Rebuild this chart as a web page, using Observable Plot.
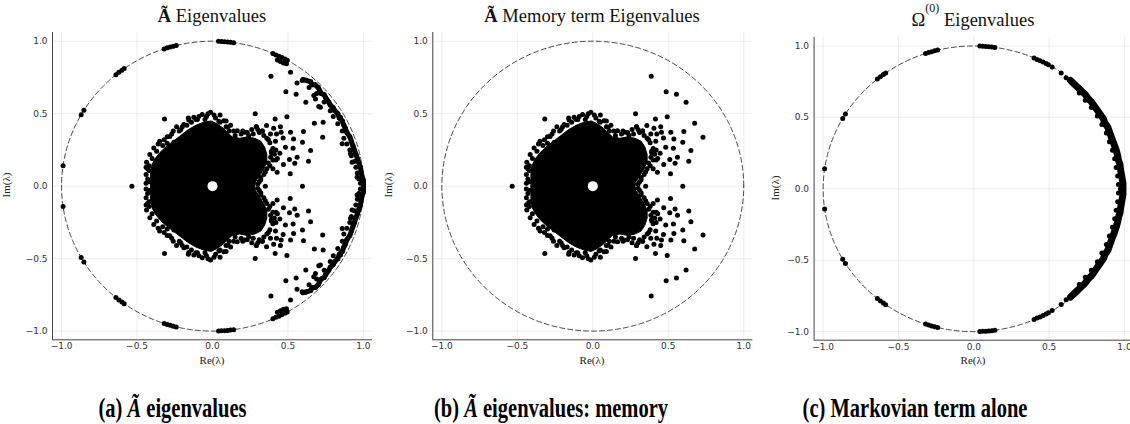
<!DOCTYPE html>
<html>
<head>
<meta charset="utf-8">
<script src="https://cdn.jsdelivr.net/npm/d3@7"></script>
<script src="https://cdn.jsdelivr.net/npm/@observablehq/plot@0.6"></script>
<style>
  body { margin: 0; background: #fff; }
  #fig { position: relative; width: 1130px; height: 424px; overflow: hidden; background: #fff; }
  .panel { position: absolute; top: 0; }
  #labels { position: absolute; left: 0; top: 0; pointer-events: none; }
</style>
</head>
<body>
<div id="fig"></div>
<script>
// Eigenvalues are stored as [re, im] with im >= 0; each complex value is drawn
// together with its conjugate (the matrices are real).

// Outline of the dense core of eigenvalues (upper half-plane).
const coreOutline = [
  [-0.41, 0], [-0.41, 0.10], [-0.40, 0.15], [-0.38, 0.19], [-0.35, 0.23], [-0.31, 0.27],
  [-0.26, 0.31], [-0.21, 0.35], [-0.16, 0.39], [-0.11, 0.42], [-0.06, 0.44], [-0.01, 0.45],
  [0.03, 0.43], [0.07, 0.40], [0.10, 0.37], [0.13, 0.34], [0.18, 0.33], [0.23, 0.34],
  [0.28, 0.33], [0.32, 0.31], [0.345, 0.27], [0.36, 0.22], [0.36, 0.17], [0.34, 0.12],
  [0.31, 0.07], [0.285, 0.03], [0.28, 0]
];

// Eigenvalues on the ragged rim of the dense core.
const coreEdge = [
  [-0.44, 0.02], [-0.43, 0.05], [-0.44, 0.08], [-0.42, 0.108], [-0.437, 0.165], [-0.415, 0.218],
  [-0.389, 0.264], [-0.36, 0.29], [-0.30, 0.296], [-0.283, 0.342], [-0.256, 0.303], [-0.238, 0.41],
  [-0.21, 0.39], [-0.19, 0.425], [-0.157, 0.457], [-0.124, 0.475], [-0.10, 0.46], [-0.068, 0.494],
  [-0.04, 0.48], [-0.013, 0.51], [0.02, 0.47], [0.042, 0.448], [0.075, 0.452], [0.101, 0.406],
  [0.12, 0.42], [0.14, 0.38], [0.164, 0.383], [0.19, 0.36], [0.212, 0.372], [0.24, 0.35],
  [0.26, 0.39], [0.29, 0.41], [0.31, 0.37], [0.33, 0.38], [0.36, 0.33], [0.38, 0.30],
  [0.40, 0.26], [0.41, 0.22], [0.40, 0.18], [0.38, 0.14], [0.35, 0.10], [0.32, 0.06], [0.31, 0.03],
  [-0.42, 0.14], [-0.40, 0.19], [-0.37, 0.24], [-0.33, 0.28], [-0.32, 0.32], [-0.27, 0.36],
  [-0.22, 0.38], [-0.17, 0.42], [-0.14, 0.44], [-0.09, 0.48], [-0.05, 0.46], [0.01, 0.49],
  [0.05, 0.44], [0.09, 0.41], [0.11, 0.38], [0.15, 0.35], [0.20, 0.38], [0.23, 0.37],
  [0.27, 0.36], [0.30, 0.39], [0.34, 0.35], [0.37, 0.32], [0.39, 0.24], [0.385, 0.20],
  [0.37, 0.16], [0.36, 0.12], [0.34, 0.08], [0.32, 0.045], [0.30, 0.015], [0.43, 0.19],
  [0.42, 0.25], [-0.43, 0.12], [-0.42, 0.03], [-0.44, 0.13], [-0.35, 0.31], [-0.30, 0.34],
  [-0.26, 0.38], [-0.20, 0.41], [-0.16, 0.47], [-0.11, 0.46], [-0.03, 0.50], [0.05, 0.49],
  [0.09, 0.45]
];

// The gap in the spectrum around the origin.
const originGap = [[0, 0]];

// Scattered memory-term eigenvalues outside the core.
const memoryScatter = [
  [-0.534, 0], [-0.318, 0.464], [0.35, 0], [0.283, 0.499], [0.387, 0.758], [0.486, 0.652],
  [0.554, 0.634], [0.618, 0.579], [0.493, 0.478], [0.415, 0.464], [0.675, 0.434], [0.73, 0.337],
  [0.603, 0.377], [0.537, 0.326], [0.65, 0.246], [0.596, 0.303], [0.636, 0.172], [0.515, 0.085],
  [0.596, 0], [0.358, 0.418], [0.45, 0.41], [0.33, 0.38], [0.384, 0.36], [0.424, 0.36],
  [0.517, 0.372], [0.468, 0.333], [0.417, 0.31], [0.483, 0.268], [0.534, 0.261], [0.446, 0.227],
  [0.561, 0.2], [0.51, 0.183], [0.545, 0.158], [0.47, 0.149], [0.428, 0.096], [0.29, 0.41],
  [0.405, 0.40], [0.455, 0.372], [0.39, 0.23], [0.42, 0.18], [0.40, 0.12]
];

// Markovian eigenvalues sitting in clusters on the unit circle.
const circleClusters = [
  [0.04, 0.999], [0.06, 0.998], [0.08, 0.997], [0.10, 0.995], [0.12, 0.993], [0.14, 0.99],
  [-0.32, 0.947], [-0.30, 0.954], [-0.28, 0.96], [-0.26, 0.966], [-0.24, 0.971],
  [-0.64, 0.768], [-0.62, 0.785], [-0.60, 0.80], [-0.585, 0.811],
  [-0.87, 0.493], [-0.852, 0.523], [-0.99, 0.141],
  [0.40, 0.915], [0.42, 0.905], [0.44, 0.897], [0.46, 0.887], [0.48, 0.877], [0.495, 0.868]
];

// Full operator: band of eigenvalues just inside the circle near Re = 1 (ordered along the arc).
const fullBand = [
  [0.60, 0.735], [0.62, 0.73], [0.65, 0.72], [0.66, 0.70], [0.68, 0.70], [0.70, 0.68],
  [0.71, 0.66], [0.72, 0.64], [0.74, 0.63], [0.75, 0.61], [0.77, 0.58], [0.78, 0.56],
  [0.80, 0.54], [0.81, 0.52], [0.83, 0.50], [0.84, 0.47], [0.86, 0.45], [0.87, 0.42],
  [0.88, 0.40], [0.89, 0.37], [0.91, 0.34], [0.92, 0.31], [0.93, 0.28], [0.94, 0.25],
  [0.95, 0.22], [0.96, 0.19], [0.97, 0.16], [0.98, 0.13], [0.985, 0.10], [0.99, 0.07],
  [1.0, 0.04], [1.0, 0.01]
];

// Full operator: eigenvalues scattered on the inner side of that band.
const fullBandInner = [
  [0.43, 0.87], [0.45, 0.86], [0.47, 0.85], [0.49, 0.845],
  [0.517, 0.786], [0.56, 0.712], [0.594, 0.728], [0.704, 0.549], [0.733, 0.44],
  [0.682, 0.602], [0.671, 0.625], [0.715, 0.544], [0.848, 0.475], [0.859, 0.292],
  [0.914, 0.223], [0.925, 0.165], [0.958, 0.061],
  [0.64, 0.68], [0.69, 0.64], [0.74, 0.58], [0.78, 0.52], [0.80, 0.48], [0.83, 0.43],
  [0.86, 0.38], [0.87, 0.33], [0.89, 0.29], [0.91, 0.25], [0.92, 0.21], [0.94, 0.17],
  [0.95, 0.13], [0.96, 0.09], [0.97, 0.05], [0.98, 0.02]
];

// Markovian term alone: dense band hugging the circle near Re = 1 (ordered along the arc).
const markovBand = [
  [0.642, 0.758], [0.66, 0.74], [0.68, 0.72], [0.70, 0.70], [0.72, 0.68], [0.74, 0.66],
  [0.76, 0.63], [0.78, 0.61], [0.80, 0.58], [0.82, 0.55], [0.84, 0.52], [0.86, 0.49],
  [0.87, 0.46], [0.89, 0.43], [0.90, 0.40], [0.91, 0.37], [0.92, 0.34], [0.935, 0.30],
  [0.945, 0.27], [0.955, 0.23], [0.96, 0.20], [0.97, 0.17], [0.975, 0.13], [0.98, 0.10],
  [0.985, 0.07], [0.99, 0.04], [0.99, 0.01]
];

// Markovian term alone: the inner row of the band and the sparse eigenvalues above it.
const markovBandInner = [
  [0.52, 0.852], [0.58, 0.81], [0.613, 0.777], [0.973, 0],
  [0.70, 0.67], [0.74, 0.62], [0.78, 0.57], [0.82, 0.51], [0.85, 0.45], [0.88, 0.39],
  [0.90, 0.33], [0.92, 0.27], [0.935, 0.21], [0.945, 0.15], [0.955, 0.09], [0.96, 0.03]
];

const tickValues = [-1, -0.5, 0, 0.5, 1];
const tickLabels = ["−1.0", "−0.5", "0.0", "0.5", "1.0"];
const extent = [-1.06, 1.06];

const withConjugates = pts => pts.flatMap(([re, im]) =>
  im === 0 ? [{re, im}] : [{re, im}, {re, im: -im}]);
// upper-half path followed by its mirror image, walked back to the start
const mirroredPath = pts => [...pts, ...pts.slice().reverse().map(([re, im]) => [re, -im])]
  .map(([re, im]) => ({re, im}));

// Reference unit circle |λ| = 1
const unitCircle = d3.range(0, 361, 1).map(a => ({
  re: Math.cos(a * Math.PI / 180), im: Math.sin(a * Math.PI / 180)
}));

const panels = [
  {left: 0, ml: 52, mr: 8, mt: 32, mb: 20.7, core: true,
   band: fullBand, bandWidth: 5, sets: [memoryScatter, circleClusters, fullBand, fullBandInner]},
  {left: 380, ml: 52.3, mr: 7.7, mt: 32, mb: 20.7, core: true,
   band: null, sets: [memoryScatter]},
  {left: 760, ml: 53.6, mr: 7, mt: 36.9, mb: 20.3, core: false,
   band: markovBand, bandWidth: 7, sets: [circleClusters, markovBand, markovBandInner]}
];

const fig = document.getElementById("fig");
const fmt = d => tickLabels[tickValues.indexOf(d)];

for (const p of panels) {
  const marks = [
    Plot.gridX(tickValues, {stroke: "#000", strokeOpacity: 0.07}),
    Plot.gridY(tickValues, {stroke: "#000", strokeOpacity: 0.07}),
    Plot.ruleX([extent[0]], {stroke: "#444", strokeWidth: 1}),
    Plot.ruleY([extent[0]], {stroke: "#444", strokeWidth: 1}),
    Plot.axisX(tickValues, {tickSize: 0, tickPadding: 3, tickFormat: fmt, label: null,
      fontSize: 9, fill: "#333"}),
    Plot.axisY(tickValues, {tickSize: 0, tickPadding: 5, tickFormat: fmt, label: null,
      fontSize: 9, fill: "#333"}),
    Plot.line(unitCircle, {x: "re", y: "im", stroke: "#333", strokeWidth: 0.9,
      strokeDasharray: "5,3"})
  ];
  if (p.core) {
    marks.push(Plot.line(mirroredPath(coreOutline), {x: "re", y: "im", fill: "black",
      stroke: "black", strokeWidth: 1}));
    marks.push(Plot.dot(withConjugates(coreEdge), {x: "re", y: "im", r: 2.5, fill: "black"}));
  }
  if (p.band) {
    marks.push(Plot.line(mirroredPath(p.band), {x: "re", y: "im", stroke: "black",
      strokeWidth: p.bandWidth, strokeLinecap: "round", strokeLinejoin: "round"}));
  }
  for (const s of p.sets) {
    marks.push(Plot.dot(withConjugates(s), {x: "re", y: "im", r: 2.5, fill: "black"}));
  }
  if (p.core) {
    marks.push(Plot.dot(withConjugates(originGap), {x: "re", y: "im", r: 5, fill: "white"}));
  }
  const chart = Plot.plot({
    width: 380, height: 360,
    marginLeft: p.ml, marginRight: p.mr, marginTop: p.mt, marginBottom: p.mb,
    x: {domain: extent},
    y: {domain: extent},
    style: {fontFamily: "DejaVu Sans", background: "transparent", overflow: "visible"},
    marks
  });
  chart.classList.add("panel");
  chart.style.left = p.left + "px";
  fig.appendChild(chart);
}

// Titles, axis names and sub-figure captions
const svg = d3.select(fig).append("svg").attr("id", "labels")
  .attr("width", 1130).attr("height", 424);
const serif = "Liberation Serif";

function title(cx, y, parts) {
  const t = svg.append("text").attr("x", cx).attr("y", y).attr("text-anchor", "middle")
    .attr("font-family", serif).attr("font-size", 18.5).attr("fill", "#111");
  for (const [txt, opts] of parts) {
    const s = t.append("tspan").text(txt);
    for (const k in (opts || {})) s.attr(k, opts[k]);
  }
}
title(212, 21.5, [["Ã", {"font-weight": "bold"}], [" Eigenvalues"]]);
title(592, 21.5, [["Ã", {"font-weight": "bold"}], [" Memory term Eigenvalues"]]);
title(973, 26, [["Ω"], ["(0)", {"font-size": 12, dy: -14}], [" Eigenvalues", {dy: 14}]]);

for (const [cx, cy] of [[212, 364], [592, 364], [973, 364]]) {
  svg.append("text").attr("x", cx).attr("y", cy).attr("text-anchor", "middle")
    .attr("font-family", serif).attr("font-size", 11).attr("fill", "#222").text("Re(λ)");
}
for (const [cx, cy] of [[6, 185], [388, 185], [775, 188]]) {
  svg.append("text").attr("transform", `translate(${cx + 4},${cy}) rotate(-90)`)
    .attr("text-anchor", "middle").attr("font-family", serif).attr("font-size", 11)
    .attr("fill", "#222").text("Im(λ)");
}

function caption(cx, parts) {
  const t = svg.append("text").attr("transform", `translate(${cx},417) scale(1,1.3)`)
    .attr("text-anchor", "middle").attr("font-family", serif).attr("font-weight", "bold")
    .attr("font-size", 20.5).attr("fill", "#000");
  for (const [txt, opts] of parts) {
    const s = t.append("tspan").text(txt);
    for (const k in (opts || {})) s.attr(k, opts[k]);
  }
}
caption(172.5, [["(a) "], ["Ã", {"font-style": "italic"}], [" eigenvalues"]]);
caption(551, [["(b) "], ["Ã", {"font-style": "italic"}], [" eigenvalues: memory"]]);
caption(915, [["(c) Markovian term alone"]]);
</script>
</body>
</html>
